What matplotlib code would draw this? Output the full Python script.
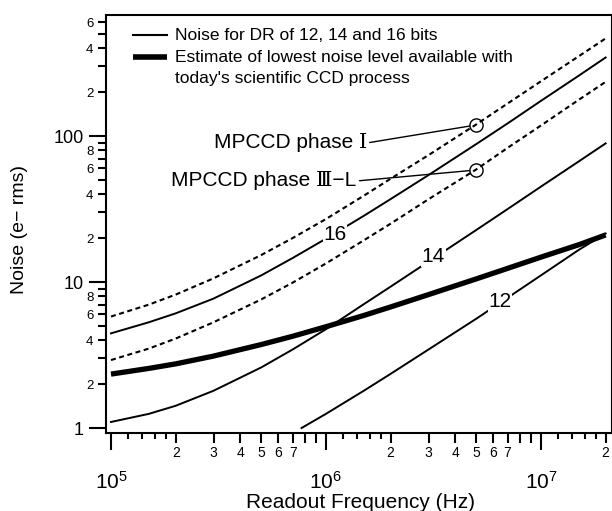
import numpy as np
import matplotlib
matplotlib.use("Agg")
import matplotlib.pyplot as plt
from matplotlib.ticker import FixedLocator, FuncFormatter, NullFormatter, NullLocator

plt.rcParams['font.family'] = ['Liberation Sans', 'Noto Sans CJK JP', 'DejaVu Sans']
plt.rcParams['mathtext.fontset'] = 'custom'
plt.rcParams['mathtext.rm'] = 'Liberation Sans'
plt.rcParams['mathtext.default'] = 'regular'

# ---------------- data ----------------
freq = [1e5, 1.5e5, 2e5, 3e5, 5e5, 7e5, 1e6, 1.5e6, 2e6, 3e6, 5e6, 7e6, 1e7, 1.5e7, 2e7]
phase_I = [5.8, 7.0, 8.2, 10.6, 15.3, 20.0, 27, 39, 51, 74, 120, 167, 237, 352, 466]
noise_16 = [4.45, 5.3, 6.1, 7.7, 11.1, 14.6, 19.8, 28.4, 37, 54, 88, 122, 174, 259, 345]
phase_IIIL = [2.92, 3.5, 4.1, 5.3, 7.6, 9.9, 13.4, 19.3, 25.1, 36.9, 59, 83, 118, 177, 235]
noise_14 = [1.10, 1.25, 1.42, 1.8, 2.6, 3.45, 4.75, 7.05, 9.3, 13.8, 22.7, 31.6, 45, 67, 89]
lowest = [2.34, 2.56, 2.75, 3.11, 3.73, 4.25, 4.94, 5.9, 6.75, 8.2, 10.5, 12.4, 14.8, 18.0, 21]
freq_12 = [7.7e5, 1e6, 1.5e6, 2e6, 3e6, 5e6, 7e6, 1e7, 1.5e7, 2e7]
noise_12 = [1.0, 1.25, 1.8, 2.35, 3.45, 5.6, 7.8, 11.1, 16.6, 21.5]

dr_labels = ['16', '14', '12']
dr_label_pos = [(1.10e6, 21.0), (3.16e6, 14.9), (6.44e6, 7.35)]

mpccd_names = ['MPCCD phase \u2160', 'MPCCD phase \u2162\u2212L']
mpccd_points = [(5e6, 119), (5e6, 58.5)]
mpccd_text_pos = [(1.55e6, 89.6), (1.39e6, 49.2)]

legend_texts = ['Noise for DR of 12, 14 and 16 bits',
                'Estimate of lowest noise level available with',
                "today's scientific CCD process"]

# ---------------- figure ----------------
fig = plt.figure(figsize=(6.12, 5.11), dpi=100)
ax = fig.add_axes([0.1724, 0.1526, 0.8268, 0.818])
ax.set_xscale('log')
ax.set_yscale('log')
xlim = (9.43e4, 2.13e7)
ax.set_xlim(*xlim)
ax.set_ylim(0.924, 674)

dash = (0, (2.4, 1.7))
ax.plot(freq, phase_I, color='black', lw=1.5, ls=dash)
ax.plot(freq, phase_IIIL, color='black', lw=1.5, ls=dash)
ax.plot(freq, noise_16, color='black', lw=1.4)
ax.plot(freq, noise_14, color='black', lw=1.4)
ax.plot(freq_12, noise_12, color='black', lw=1.4)
ax.plot(freq, lowest, color='black', lw=3.8, solid_capstyle='butt')

for lab, (fx, fy) in zip(dr_labels, dr_label_pos):
    ax.text(fx, fy, lab, fontsize=15, ha='center', va='center', zorder=5,
            bbox=dict(fc='white', ec='none', pad=0.5))

for name, pt, tp in zip(mpccd_names, mpccd_points, mpccd_text_pos):
    ax.plot([pt[0]], [pt[1]], marker='o', ms=9.5, mfc='none', mec='black', mew=1.0, zorder=6)
    ax.annotate(name, xy=pt, xytext=tp, textcoords='data', fontsize=15,
                family=['Liberation Sans', 'DejaVu Serif', 'Noto Sans CJK JP'],
                ha='right', va='center', zorder=6,
                arrowprops=dict(arrowstyle='-', color='black', lw=1.0,
                                shrinkA=0, shrinkB=4.8, relpos=(1.0, 0.5)))

# manual legend
tr = ax.transAxes
ax.plot([0.0543, 0.1215], [0.952, 0.952], color='black', lw=1.5, transform=tr)
ax.plot([0.0543, 0.1215], [0.8995, 0.8995], color='black', lw=4.0, transform=tr, solid_capstyle='butt')
for txt, yy in zip(legend_texts, [0.952, 0.8995, 0.8493]):
    ax.text(0.1374, yy, txt, transform=tr, fontsize=12.5, ha='left', va='center')

# ---------------- ticks ----------------
def mantissa(v):
    e = np.floor(np.log10(v) + 1e-9)
    return int(round(v / 10 ** e))

ax.xaxis.set_major_locator(FixedLocator([1e5, 1e6, 1e7]))
ax.xaxis.set_major_formatter(FuncFormatter(lambda v, p: r'$10^{%d}$' % round(np.log10(v))))
ax.xaxis.set_minor_locator(FixedLocator([m * 10.0 ** e for e in (5, 6, 7) for m in range(2, 10)]))
ax.xaxis.set_minor_formatter(FuncFormatter(lambda v, p: str(mantissa(v)) if mantissa(v) <= 7 else ''))
ax.tick_params(axis='x', which='major', length=12.2, width=1.5, labelsize=15, pad=15, direction='out')
ax.tick_params(axis='x', which='minor', length=7.2, width=1.5, labelsize=10, pad=2.5, direction='out')

ax.yaxis.set_major_locator(FixedLocator([1, 10, 100]))
ax.yaxis.set_major_formatter(FuncFormatter(lambda v, p: '%g' % v))
ax.yaxis.set_minor_locator(FixedLocator([m * 10.0 ** e for e in (0, 1, 2) for m in range(2, 10)]))
ax.yaxis.set_minor_formatter(FuncFormatter(lambda v, p: str(mantissa(v)) if mantissa(v) in (2, 4, 6, 8) else ''))
ax.tick_params(axis='y', which='major', length=12.2, width=1.5, labelsize=13, pad=3.5, direction='out')
ax.tick_params(axis='y', which='minor', length=5.8, width=1.5, labelsize=9.5, pad=3, direction='out')

for s in ax.spines.values():
    s.set_linewidth(1.5)

# short ticks between 1 and 2 of each decade
ax2 = ax.twiny()
ax2.set_xscale('log')
ax2.set_xlim(*xlim)
ax2.xaxis.set_ticks_position('bottom')
ax2.xaxis.set_major_locator(FixedLocator([m * 10.0 ** e for e in (5, 6, 7) for m in (1.2, 1.4, 1.6, 1.8)]))
ax2.xaxis.set_major_formatter(NullFormatter())
ax2.xaxis.set_minor_locator(NullLocator())
ax2.tick_params(axis='x', which='major', length=4.3, width=1.5, direction='out')
for s in ax2.spines.values():
    s.set_visible(False)

ax.set_xlabel('Readout Frequency (Hz)', fontsize=15)
ax.xaxis.set_label_coords(0.503, -0.1435)
ax.set_ylabel('Noise (e\u2212 rms)', fontsize=14)
ax.yaxis.set_label_coords(-0.153, 0.486)

fig.savefig('out.png', dpi=100)
